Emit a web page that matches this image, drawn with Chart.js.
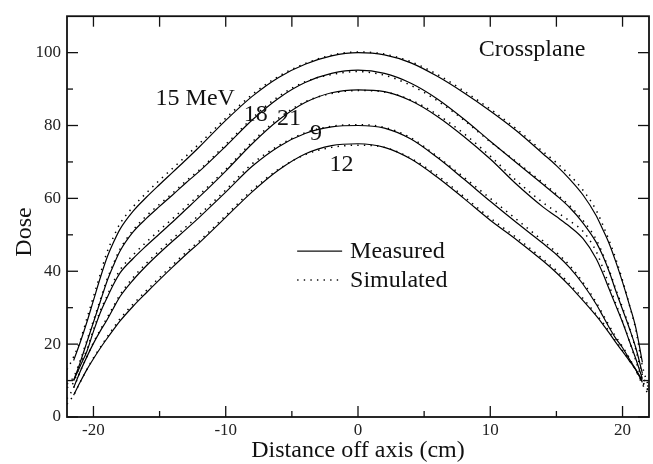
<!DOCTYPE html>
<html><head><meta charset="utf-8">
<script src="https://cdn.jsdelivr.net/npm/chart.js@4.4.0/dist/chart.umd.min.js"></script>
<style>html,body{margin:0;padding:0;background:#fff;}#wrap{width:653px;height:464px;}</style>
</head><body><div id="wrap"><canvas id="c" width="653" height="464"></canvas></div>
<script>
// ---- data ----
const xMeasured = [-21.5,-21,-20.5,-20,-19.5,-19,-18.5,-18,-17,-16,-15,-14,-13,-12,-10,-8,-6,-4,-2,0,2,4,6,8,10,12,14,15,16,17,18,18.5,19,19.5,20,20.5,21,21.5];
const xSimulated = [-22,-21.5,-21,-20.5,-20,-19.5,-19,-18.5,-18,-17,-16,-15,-14,-13,-12,-10,-8,-6,-4,-2,0,2,4,6,8,10,12,14,15,16,17,18,18.5,19,19.5,20,20.5,21,21.5,22];

const measured15 = [15.5,20.5,26,32,38,43.5,47.8,51.5,56.5,60.3,63.8,67.2,70.6,74.1,81.4,88,93.2,96.8,99.1,100,99.4,97.2,93.5,89,84,78.5,72.2,69,65.3,61,55.3,51.5,47.5,42.5,37,31,24.5,15];
const measured18 = [10,15,20.5,26,31.5,37,41.5,45.5,50.8,54.5,57.8,61,64.3,67.4,74.3,81.5,87.5,91.8,94.3,95.2,94.3,91.6,87.3,81.8,75.7,69.7,63.8,60.8,57.5,53.3,48,44.3,39.8,34.5,29.5,24.5,19,12];
const measured21 = [10,14,18,23.5,28.5,32.5,36.3,39.5,43.5,47,50.3,53.6,57,60.4,67.5,75,81.5,86.3,89,89.8,89.3,86.8,82.5,77,70.8,63.8,57.6,55,52.3,49,43.5,39.5,35,30.5,26,21,16,10.5];
const measured9  = [8,12.5,16.5,20.2,23.5,26.5,29.8,33,37.6,41.5,45,48.3,51.5,54.8,61.7,68.8,74.2,77.8,79.6,80,79.3,76.3,71.2,65.3,59.2,53.3,47.6,44.6,41,36.5,31,27.8,24.5,21.5,19,16,13,9.5];
const measured12 = [6,9.6,13,16,18.8,21.4,23.9,26.3,30.4,34.1,37.7,41.2,44.6,47.8,54.8,61.8,67.8,72.2,74.5,75,74,70.8,65.8,60,54,48.6,42.8,39.6,36,32,27.8,25.5,23,20.4,18,15.5,13,10];

const simulated15 = [13,16.5,21,27,33,39,45,49.3,53,57.7,61.5,65,68.3,71.6,75,82,88.5,93.5,97,99.3,100.2,99.6,97.5,94,89.5,84.5,79,72.8,69.8,66.4,62.3,56.8,52.8,48.3,43.3,37.5,31,24,14,8];
const simulated18 = [9,11,15.5,21,26.5,32,37.5,42,46,51.3,55.2,58.4,61.5,64.8,67.8,74.8,82,88,92,94,94.8,93.8,91,86.8,81.5,75.5,70,64.2,61.2,58,54,48.8,44.8,40.2,35,30,24.8,18.5,11.5,8];
const simulated21 = [8,9.5,14.5,18.5,24,29,33,37,40.3,44.5,48,51.3,54.5,57.8,61,68,75.5,82,86.5,88.8,89.6,89.2,87,83,77.8,71.6,64.8,58.8,56.3,53.8,51,45.5,41,36,31,26.3,21,15.5,10,7];
const simulated9  = [5,8,12.5,16.5,20.5,23.8,27,30.3,33.5,38.3,42.2,45.7,49,52.2,55.5,62.3,69.5,74.5,78,79.8,80.2,79.5,76.6,71.5,65.8,60,54.2,48.3,45.2,41.6,37,31.5,28.3,25,22,19.3,16.3,12.8,9,6];
const simulated12 = [3.5,6,9.6,13,16.2,19,21.8,24.4,26.9,31,34.7,38.3,41.8,45.2,48.3,55.3,62.3,68,72,74,74.6,74,71,66.3,60.5,54.6,49.2,43.3,40.2,36.5,32.6,28.2,26,23.4,20.8,18.3,15.6,12.8,9.5,7];

const energyLabels = ['15 MeV','18','21','9','12'];
const xTicks = [-20,-10,0,10,20];
const xMinorTicks = [-15,-5,5,15];
const yTicks = [0,20,40,60,80,100];
const yMinorTicks = [10,30,50,70,90];
const xTitle = 'Distance off axis (cm)';
const yTitle = 'Dose';
const panelTitle = 'Crossplane';
const legendLabels = ['Measured','Simulated'];

// annotation anchor points in data units
const labelAnchors = [[-15.3,85.6],[-8.64,81.3],[-6.13,80.1],[-3.62,75.9],[-2.16,67.4]];
const titleAnchor = [9.12,99.06];

const FONT = '"Liberation Serif","Times New Roman",serif';
const DOT = [1.4,5.2];

function pts(xs, ys){ return xs.map((v,i)=>({x:v,y:ys[i]})); }
const meas = [measured15,measured18,measured21,measured9,measured12];
const sims = [simulated15,simulated18,simulated21,simulated9,simulated12];
const datasets = [];
meas.forEach((m,i)=>datasets.push({label:'Measured '+energyLabels[i],data:pts(xMeasured,m),borderColor:'#000',borderWidth:1.2,pointRadius:0,cubicInterpolationMode:'monotone',fill:false}));
sims.forEach((s,i)=>datasets.push({label:'Simulated '+energyLabels[i],data:pts(xSimulated,s),borderColor:'#000',borderWidth:1.5,borderDash:DOT,pointRadius:0,cubicInterpolationMode:'monotone',fill:false}));

const framePlugin = {
  id:'frame',
  afterDraw(chart){
    const {ctx, chartArea:a, scales:{x,y}} = chart;
    ctx.save();
    ctx.strokeStyle='#111';
    ctx.lineWidth=1.3;
    const seg=(x1,y1,x2,y2)=>{ctx.beginPath();ctx.moveTo(x1,y1);ctx.lineTo(x2,y2);ctx.stroke();};
    xTicks.forEach(v=>{const p=x.getPixelForValue(v);seg(p,a.bottom,p,a.bottom-11);seg(p,a.top,p,a.top+10.5);});
    xMinorTicks.forEach(v=>{const p=x.getPixelForValue(v);seg(p,a.bottom,p,a.bottom-6);seg(p,a.top,p,a.top+10.5);});
    yTicks.forEach(v=>{const p=y.getPixelForValue(v);seg(a.left,p,a.left+11,p);seg(a.right,p,a.right-11,p);});
    yMinorTicks.forEach(v=>{const p=y.getPixelForValue(v);seg(a.left,p,a.left+6,p);seg(a.right,p,a.right-6,p);});
    ctx.lineWidth=1.8;
    ctx.strokeRect(a.left,a.top,a.right-a.left,a.bottom-a.top);

    ctx.fillStyle='#111';
    ctx.font='24px '+FONT;
    ctx.textAlign='left';
    ctx.textBaseline='alphabetic';
    energyLabels.forEach((t,i)=>{ctx.fillText(t,x.getPixelForValue(labelAnchors[i][0]),y.getPixelForValue(labelAnchors[i][1]));});
    ctx.fillText(panelTitle,x.getPixelForValue(titleAnchor[0]),y.getPixelForValue(titleAnchor[1]));

    // legend
    const lx0=x.getPixelForValue(-4.6), lx1=x.getPixelForValue(-1.2), tx=x.getPixelForValue(-0.6);
    ctx.lineWidth=1.2; ctx.setLineDash([]);
    const ly1=y.getPixelForValue(45.5);
    seg(lx0,ly1,lx1,ly1);
    ctx.fillText(legendLabels[0],tx,y.getPixelForValue(43.6));
    ctx.lineWidth=1.5; ctx.setLineDash(DOT);
    const ly2=y.getPixelForValue(37.6);
    seg(lx0,ly2,lx1,ly2);
    ctx.setLineDash([]);
    ctx.fillText(legendLabels[1],tx,y.getPixelForValue(35.7));

    // axis titles
    ctx.textAlign='center';
    ctx.fillText(xTitle,(a.left+a.right)/2,457);
    ctx.save();
    ctx.translate(31,232);
    ctx.rotate(-Math.PI/2);
    ctx.fillText(yTitle,0,0);
    ctx.restore();
    ctx.restore();
  }
};

new Chart(document.getElementById('c'),{
  type:'line',
  data:{datasets},
  options:{
    responsive:false,animation:false,devicePixelRatio:1,
    layout:{padding:{top:9,right:4,left:0,bottom:0}},
    plugins:{legend:{display:false},tooltip:{enabled:false}},
    scales:{
      x:{type:'linear',min:-22,max:22,
        afterBuildTicks:s=>{s.ticks=xTicks.map(v=>({value:v}));},
        afterFit:s=>{s.height=47;},
        grid:{display:false,drawTicks:false},border:{display:false},
        ticks:{font:{family:FONT,size:17},color:'#222',padding:3,maxRotation:0,autoSkip:false}},
      y:{type:'linear',min:0,max:110,
        afterBuildTicks:s=>{s.ticks=yTicks.map(v=>({value:v}));},
        afterFit:s=>{s.width=67;},
        grid:{display:false,drawTicks:false},border:{display:false},
        ticks:{font:{family:FONT,size:17},color:'#222',padding:6,autoSkip:false}}
    }
  },
  plugins:[framePlugin]
});
</script></body></html>
